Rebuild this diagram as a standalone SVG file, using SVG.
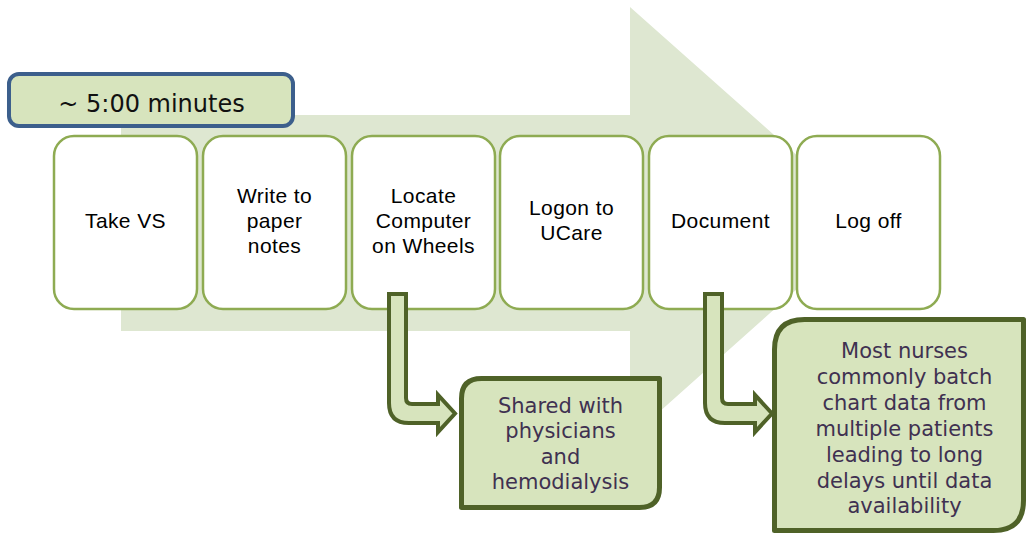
<svg xmlns="http://www.w3.org/2000/svg" width="1026" height="536" viewBox="0 0 1026 536">
  <style>
    .step rect { fill: #ffffff; stroke: #8eab52; stroke-width: 2.5; }
    .step text { font-family: "Liberation Sans", Arial, sans-serif; font-size: 21px; letter-spacing: 0.4px; fill: #000000; text-anchor: middle; }
    .note path { fill: #d7e4bd; stroke: #4f6228; stroke-width: 5; stroke-linejoin: round; }
    .note text { font-family: "DejaVu Sans", "Liberation Sans", sans-serif; font-size: 21px; fill: #3f3151; text-anchor: middle; }
    .bend { fill: #d7e4bd; stroke: #4f6228; stroke-width: 4; stroke-linejoin: miter; }
  </style>

  <!-- large background process arrow -->
  <g id="backdrop">
    <path d="M121 115 L630 115 L630 7 L872 222 L630 438 L630 331 L121 331 Z" fill="#dee7d1"/>
  </g>

  <!-- duration label -->
  <g id="duration">
    <rect x="9" y="74" width="284" height="52" rx="10" fill="#d7e4bd" stroke="#3c5f8c" stroke-width="4"/>
    <text x="151.5" y="112" font-family="DejaVu Sans, Liberation Sans, sans-serif" font-size="24" fill="#111111" text-anchor="middle">~ 5:00 minutes</text>
  </g>

  <!-- process steps -->
  <g id="step-take-vs" class="step">
    <rect x="54" y="136" width="143" height="173" rx="20"/>
    <text x="125.5" y="228">Take VS</text>
  </g>
  <g id="step-write-notes" class="step">
    <rect x="203" y="136" width="143" height="173" rx="20"/>
    <text x="274.5" y="203">Write to</text>
    <text x="274.5" y="228">paper</text>
    <text x="274.5" y="253">notes</text>
  </g>
  <g id="step-locate-cow" class="step">
    <rect x="352" y="136" width="143" height="173" rx="20"/>
    <text x="423.5" y="203">Locate</text>
    <text x="423.5" y="228">Computer</text>
    <text x="423.5" y="253">on Wheels</text>
  </g>
  <g id="step-logon" class="step">
    <rect x="500" y="136" width="143" height="173" rx="20"/>
    <text x="571.5" y="215">Logon to</text>
    <text x="571.5" y="240">UCare</text>
  </g>
  <g id="step-document" class="step">
    <rect x="649" y="136" width="143" height="173" rx="20"/>
    <text x="720.5" y="228">Document</text>
  </g>
  <g id="step-log-off" class="step">
    <rect x="797" y="136" width="143" height="173" rx="20"/>
    <text x="868.5" y="228">Log off</text>
  </g>

  <!-- callout notes -->
  <g id="note-shared" class="note">
    <path d="M481.5 378.5 L659.5 378.5 L659.5 487.5 Q659.5 507.5 639.5 507.5 L461.5 507.5 L461.5 398.5 Q461.5 378.5 481.5 378.5 Z"/>
    <text x="560.5" y="413">Shared with</text>
    <text x="560.5" y="438">physicians</text>
    <text x="560.5" y="464">and</text>
    <text x="560.5" y="489">hemodialysis</text>
  </g>
  <g id="note-batch" class="note">
    <path d="M804.5 319.5 L1023.5 319.5 L1023.5 500.5 Q1023.5 530.5 993.5 530.5 L774.5 530.5 L774.5 349.5 Q774.5 319.5 804.5 319.5 Z"/>
    <text x="904.5" y="358">Most nurses</text>
    <text x="904.5" y="384">commonly batch</text>
    <text x="904.5" y="410">chart data from</text>
    <text x="904.5" y="436">multiple patients</text>
    <text x="904.5" y="462">leading to long</text>
    <text x="904.5" y="488">delays until data</text>
    <text x="904.5" y="513">availability</text>
  </g>

  <!-- bent connectors from steps to notes -->
  <g id="connectors">
    <path class="bend" d="M389 294 L406 294 L406 398 Q406 404 412 404 L438 404 L438 395 L455 413.5 L438 432 L438 423 L409 423 Q389 423 389 403 Z"/>
    <path class="bend" d="M705 294 L722 294 L722 398 Q722 404 728 404 L755 404 L755 395 L772 413.5 L755 432 L755 423 L725 423 Q705 423 705 403 Z"/>
  </g>
</svg>
